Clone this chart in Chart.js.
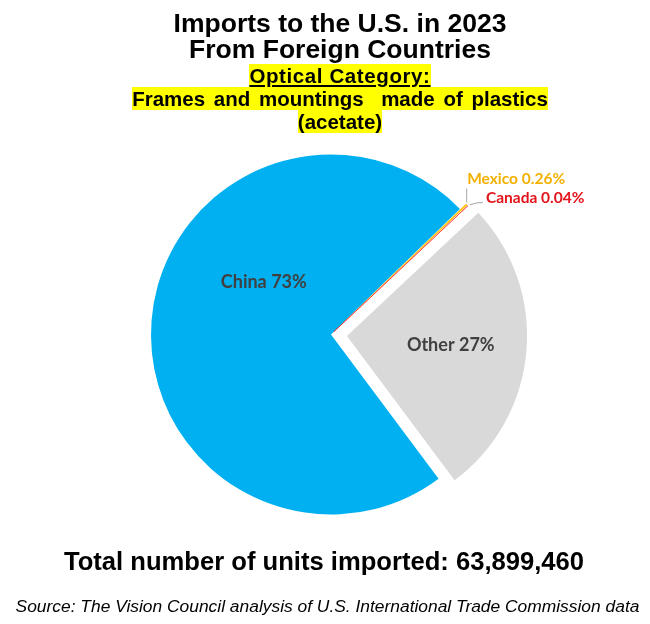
<!DOCTYPE html>
<html><head><meta charset="utf-8">
<script src="https://cdn.jsdelivr.net/npm/chart.js@4.4.0/dist/chart.umd.min.js"></script>
<style>
html,body{margin:0;padding:0;background:#fff;}
#wrap{position:relative;width:650px;height:624px;overflow:hidden;background:#fff;}
#c{position:absolute;left:0;top:0;}
.t{position:absolute;left:0;width:680px;text-align:center;font-family:"Liberation Sans",Arial,sans-serif;font-weight:bold;color:#000;white-space:nowrap;}
.h1{font-size:26.5px;line-height:30px;}
.h2{font-size:20.5px;line-height:23px;}
.hl{background:#FFFF00;}
.u{text-decoration:underline;text-underline-offset:2px;}
#total{position:absolute;left:0;width:648px;top:546.6px;text-align:center;font-family:"Liberation Sans",Arial,sans-serif;font-weight:bold;font-size:25.6px;line-height:29px;color:#000;white-space:nowrap;}
#src{position:absolute;left:0;width:655px;top:597px;text-align:center;font-family:"Liberation Sans",Arial,sans-serif;font-style:italic;font-size:17.4px;line-height:19px;color:#000;white-space:nowrap;}
</style>
</head><body>
<div id="wrap">
<canvas id="c" width="650" height="624"></canvas>
<div class="t h1" style="top:7.5px">Imports to the U.S. in 2023</div>
<div class="t h1" style="top:34.3px">From Foreign Countries</div>
<div class="t h2" style="top:63.9px;letter-spacing:0.6px"><span class="hl u">Optical Category:</span></div>
<div class="t h2" style="top:87.4px;word-spacing:3px"><span class="hl">Frames and mountings&nbsp; made of plastics</span></div>
<div class="t h2" style="top:109.9px"><span class="hl">(acetate)</span></div>
<div id="total">Total number of units imported: 63,899,460</div>
<div id="src">Source: The Vision Council analysis of U.S. International Trade Commission data</div>
</div>
<script>
// ---- data ----
const countries = ["China", "Mexico", "Canada", "Other"];
const shares = [72.9, 0.26, 0.04, 26.8];
const sliceColors = ["#00B0F0", "#FFC000", "#FF0000", "#D9D9D9"];
const labelColors = ["#404040", "#F2B100", "#E3141B", "#404040"];
const sliceOffsets = [0, 16, 16, 64];
const sliceBorders = [0, 0, 0.5, 0];
// label layout (inside: radius fraction + angle shift; outside: leader)
const labelMode = ["inside", "outside", "outside", "inside"];
const labelRadius = [0.472, 0, 0, 0.579];
const labelAngleShift = [33.2, 0, 0, 0];
const leaderPts = [null, [[0,-2],[0,-16]], [[2,-1],[10,-3],[15,-3]], null];
const labelShift = [null, [0.5,-25], [18,-7.5], null];

function pctText(v){ return v >= 1 ? String(Math.round(v)) : v.toFixed(2); }

const labelPlugin = {
  id: 'sliceLabels',
  afterDatasetsDraw(chart) {
    const ctx = chart.ctx;
    const meta = chart.getDatasetMeta(0);
    meta.data.forEach((arc, i) => {
      const p = arc.getProps(['x','y','startAngle','endAngle','outerRadius']);
      const mid = (p.startAngle + p.endAngle) / 2;
      const off = sliceOffsets[i] / 4;
      const cx = p.x + Math.cos(mid) * off, cy = p.y + Math.sin(mid) * off;
      const text = countries[i] + ' ' + pctText(shares[i]) + '%';
      ctx.save();
      ctx.fillStyle = labelColors[i];
      if (labelMode[i] === 'inside') {
        ctx.font = 'bold 18px Lato, "Open Sans", sans-serif';
        const a = mid + labelAngleShift[i] * Math.PI / 180;
        const r = p.outerRadius * labelRadius[i];
        ctx.textAlign = 'center'; ctx.textBaseline = 'middle';
        ctx.fillText(text, cx + Math.cos(a) * r, cy + Math.sin(a) * r);
      } else {
        const fix = 1 - Math.sin(Math.min(Math.PI, p.endAngle - p.startAngle));
        const tipR = p.outerRadius + off * fix;
        const tx = cx + Math.cos(mid) * tipR, ty = cy + Math.sin(mid) * tipR;
        ctx.strokeStyle = '#A6A6A6'; ctx.lineWidth = 1;
        ctx.beginPath();
        leaderPts[i].forEach((q, k) => {
          if (k === 0) ctx.moveTo(tx + q[0], ty + q[1]); else ctx.lineTo(tx + q[0], ty + q[1]);
        });
        ctx.stroke();
        ctx.font = 'bold 15.5px Lato, "Open Sans", sans-serif';
        ctx.textAlign = 'left'; ctx.textBaseline = 'middle';
        ctx.fillText(text, tx + labelShift[i][0], ty + labelShift[i][1]);
      }
      ctx.restore();
    });
  }
};

new Chart(document.getElementById('c'), {
  type: 'pie',
  data: {
    labels: countries,
    datasets: [{
      data: shares,
      backgroundColor: sliceColors,
      borderColor: sliceColors,
      borderWidth: sliceBorders,
      offset: sliceOffsets,
      hoverOffset: 0
    }]
  },
  options: {
    responsive: false,
    animation: false,
    devicePixelRatio: 1,
    rotation: 143.3,
    radius: 180,
    layout: { padding: { left: 12, right: 0, top: 45, bottom: 0 } },
    plugins: { legend: { display: false }, tooltip: { enabled: false } },
    events: []
  },
  plugins: [labelPlugin]
});
</script>
</body></html>
